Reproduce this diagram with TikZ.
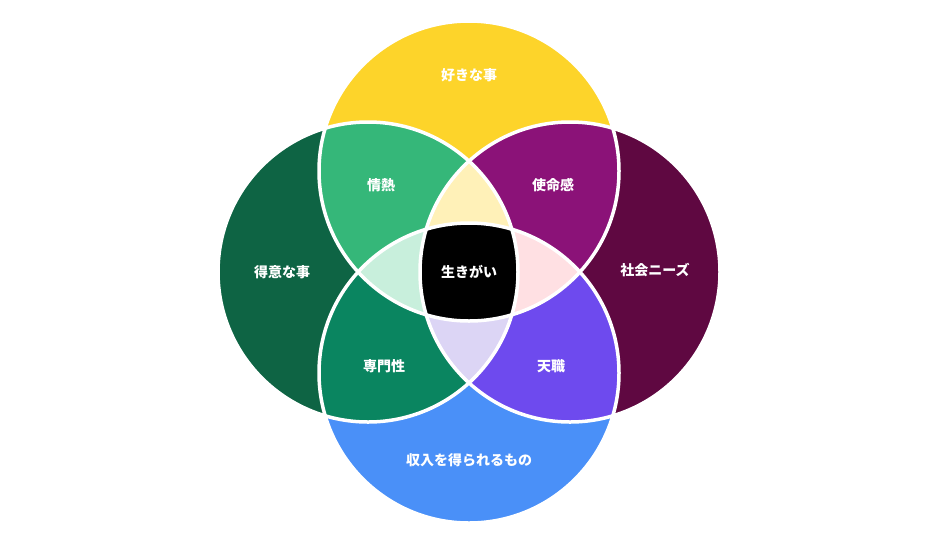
\documentclass[tikz,border=0pt]{standalone}
\usepackage{fontspec}
\newfontfamily\jp{Noto Sans CJK JP}
\begin{document}
\begin{tikzpicture}[x=1pt,y=-1pt,
  lbl/.style={text=white,font=\jp\bfseries\fontsize{14}{16}\selectfont}]
\useasboundingbox[fill=white] (0,0) rectangle (940,550);
\def\R{150}
\coordinate (T) at (469,171);
\coordinate (B) at (469,373);
\coordinate (L) at (368,272);
\coordinate (Rt) at (570,272);
\fill[yellow!80!orange!90!white,fill={rgb,255:red,253;green,212;blue,42}] (T) circle (\R);
\fill[fill={rgb,255:red,95;green,8;blue,65}] (Rt) circle (\R);
\fill[fill={rgb,255:red,74;green,144;blue,248}] (B) circle (\R);
\fill[fill={rgb,255:red,14;green,100;blue,68}] (L) circle (\R);
% pairs
\begin{scope}\clip (T) circle (\R); \fill[fill={rgb,255:red,53;green,183;blue,121}] (L) circle (\R); \fill[fill={rgb,255:red,139;green,18;blue,120}] (Rt) circle (\R);\end{scope}
\begin{scope}\clip (B) circle (\R); \fill[fill={rgb,255:red,10;green,133;blue,96}] (L) circle (\R); \fill[fill={rgb,255:red,110;green,74;blue,238}] (Rt) circle (\R);\end{scope}
% triples
\begin{scope}\clip (T) circle (\R); \clip (L) circle (\R); \fill[fill={rgb,255:red,255;green,241;blue,184}] (Rt) circle (\R);\end{scope}
\begin{scope}\clip (T) circle (\R); \clip (L) circle (\R); \fill[fill={rgb,255:red,200;green,239;blue,220}] (B) circle (\R);\end{scope}
\begin{scope}\clip (T) circle (\R); \clip (Rt) circle (\R); \fill[fill={rgb,255:red,255;green,224;blue,227}] (B) circle (\R);\end{scope}
\begin{scope}\clip (B) circle (\R); \clip (L) circle (\R); \fill[fill={rgb,255:red,220;green,213;blue,245}] (Rt) circle (\R);\end{scope}
% quadruple
\begin{scope}\clip (T) circle (\R); \clip (L) circle (\R); \clip (B) circle (\R); \fill[black] (Rt) circle (\R);\end{scope}
\foreach \c in {T,B,L,Rt} \draw[white,line width=3.5] (\c) circle (\R);
\node[lbl] (n1) at (469,75) {好きな事};
\node[lbl] (n2) at (282,272) {得意な事};
\node[lbl] (n3) at (655,270) {社会ニーズ};
\node[lbl] (n4) at (469,460) {収入を得られるもの};
\node[lbl] (n5) at (381,185) {情熱};
\node[lbl] (n6) at (553,185) {使命感};
\node[lbl] (n7) at (384,366) {専門性};
\node[lbl] (n8) at (551,366) {天職};
\node[lbl] (n9) at (469,272) {生きがい};
\end{tikzpicture}
\end{document}
